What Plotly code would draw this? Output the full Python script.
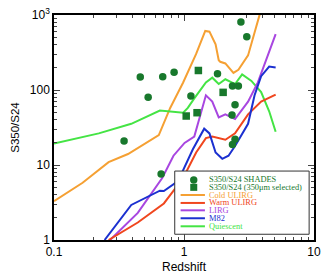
import plotly.graph_objects as go

# ---- data ----
shades_z = [0.346, 0.461, 0.53, 0.667, 0.686, 0.839, 1.13, 1.81, 2.34, 2.36, 2.62, 2.47, 2.36, 2.47, 2.74, 3.04]
shades_r = [20.9, 149, 80, 7.6, 150, 172, 83, 165, 46.5, 113, 113, 63.6, 18.7, 22, 806, 514]

sel_z = [1.29, 1.04, 1.26, 2.0]
sel_r = [182, 45, 49.8, 93]

cold_z = [0.1, 0.166, 0.263, 0.371, 0.64, 0.783, 0.985, 1.24, 1.457, 1.57, 1.75, 1.85, 1.90, 2.08, 2.40, 2.62, 3.11, 3.80, 4.2]
cold_r = [3.3, 5.8, 10.9, 14, 25, 57.6, 126, 303, 613, 600, 407, 250, 238, 226, 169, 186, 289, 980, 1500]

warm_z = [0.263, 0.441, 0.7, 0.985, 1.24, 1.474, 1.65, 2.08, 2.47, 3.11, 3.92, 5.07]
warm_r = [1.0, 1.71, 3.07, 6.7, 14.7, 22.8, 23.9, 21.7, 26.4, 47.4, 70, 87]

lirg_z = [0.27, 0.441, 0.68, 0.83, 1.01, 1.2, 1.474, 1.65, 1.85, 2.08, 2.47, 3.11, 3.70, 5.07]
lirg_r = [1.0, 2.3, 6.7, 13.3, 19.7, 23.9, 85, 70, 43, 47.4, 41, 70, 126, 556]

m82_z = [0.245, 0.393, 0.652, 0.7, 0.9, 1.17, 1.43, 1.57, 1.75, 1.97, 2.2, 2.47, 3.11, 3.49, 3.92, 4.52, 5.07]
m82_r = [1.0, 2.93, 4.55, 4.5, 6.1, 16.2, 30.5, 26.4, 14.7, 12.1, 13.3, 17.9, 35.4, 85, 153, 205, 200]

qui_z = [0.1, 0.221, 0.393, 0.652, 0.985, 1.07, 1.2, 1.474, 1.65, 1.85, 2.08, 2.47, 2.80, 3.30, 3.92, 4.52, 5.07]
qui_r = [19.3, 26.4, 35.4, 53.3, 49.8, 57.7, 77.3, 126, 146, 120, 139, 120, 161, 132, 94, 52, 27.7]

x_ticks = [0.1, 1, 10]
x_ticktext = ["0.1", "1", "10"]
y_ticks = [1, 10, 100, 1000]
y_ticktext = ["1", "10", "100", "10<sup>3</sup>"]

legend_labels = ["S350/S24 SHADES", "S350/S24 (350\u03bcm selected)", "Cold ULIRG",
                 "Warm ULIRG", "LIRG", "M82", "Quiescent"]

# ---- styles ----
DG = "#18782c"
C_COLD = "#f5a033"
C_WARM = "#f0461e"
C_LIRG = "#a846e0"
C_M82 = "#1b30d0"
C_QUI = "#44e444"

fig = go.Figure()
for z, r, c in [(cold_z, cold_r, C_COLD), (qui_z, qui_r, C_QUI), (lirg_z, lirg_r, C_LIRG),
                (warm_z, warm_r, C_WARM), (m82_z, m82_r, C_M82)]:
    fig.add_trace(go.Scatter(x=z, y=r, mode="lines", line=dict(color=c, width=2), showlegend=False))

fig.add_trace(go.Scatter(x=shades_z, y=shades_r, mode="markers",
                         marker=dict(symbol="circle", size=7.5, color=DG), showlegend=False))
fig.add_trace(go.Scatter(x=sel_z, y=sel_r, mode="markers",
                         marker=dict(symbol="square", size=7.5, color=DG), showlegend=False))

minor_x = [a * b for b in [0.1, 1] for a in range(2, 10)]
minor_y = [a * b for b in [1, 10, 100] for a in range(2, 10)]

fig.update_xaxes(type="log", range=[-1, 1], tickmode="array", tickvals=x_ticks, ticktext=x_ticktext,
                 ticks="inside", ticklen=6, tickwidth=1, mirror="allticks", showline=True,
                 linecolor="black", linewidth=1.5, showgrid=False, zeroline=False,
                 minor=dict(tickmode="array", tickvals=minor_x, ticks="inside", ticklen=3, showgrid=False),
                 tickfont=dict(family="Liberation Sans", size=12, color="black"),
                 title=dict(text="Redshift", font=dict(family="Liberation Sans", size=12, color="black"),
                            standoff=4))
fig.update_yaxes(type="log", range=[0, 3], tickmode="array", tickvals=y_ticks, ticktext=y_ticktext,
                 ticks="inside", ticklen=6, tickwidth=1, mirror="allticks", showline=True,
                 linecolor="black", linewidth=1.5, showgrid=False, zeroline=False,
                 minor=dict(tickmode="array", tickvals=minor_y, ticks="inside", ticklen=3, showgrid=False),
                 tickfont=dict(family="Liberation Sans", size=12, color="black"),
                 title=dict(text="S350/S24", font=dict(family="Liberation Sans", size=11.5, color="black"),
                            standoff=8))

# ---- manual legend ----
shapes = [dict(type="rect", xref="paper", yref="paper", x0=0.4644, x1=0.9813, y0=0.0255, y1=0.3064,
               fillcolor="white", line=dict(color="#333333", width=1), layer="above")]
rows = [0.2668, 0.234, 0.2, 0.1647, 0.1319, 0.0966, 0.0609]
text_colors = [DG, DG, C_COLD, C_WARM, C_LIRG, C_M82, C_QUI]
annotations = []
for i, (lab, yy, col) in enumerate(zip(legend_labels, rows, text_colors)):
    annotations.append(dict(xref="paper", yref="paper", x=0.5918, y=yy, text=lab, showarrow=False,
                            xanchor="left", yanchor="middle", borderpad=0,
                            font=dict(family="Liberation Serif", size=8.4, color=col)))
    if i == 0:
        shapes.append(dict(type="circle", xref="paper", yref="paper", xsizemode="pixel", ysizemode="pixel",
                           xanchor=0.5375, yanchor=yy, x0=-3.7, x1=3.7, y0=-3.7, y1=3.7,
                           fillcolor=DG, line=dict(width=0), layer="above"))
    elif i == 1:
        shapes.append(dict(type="rect", xref="paper", yref="paper", xsizemode="pixel", ysizemode="pixel",
                           xanchor=0.5375, yanchor=yy, x0=-3.5, x1=3.5, y0=-3.5, y1=3.5,
                           fillcolor=DG, line=dict(width=0), layer="above"))
    else:
        shapes.append(dict(type="line", xref="paper", yref="paper", x0=0.4869, x1=0.5805, y0=yy, y1=yy,
                           line=dict(color=col, width=2), layer="above"))

fig.update_layout(width=327, height=278, margin=dict(l=54, r=6, t=10, b=33),
                  paper_bgcolor="white", plot_bgcolor="white",
                  shapes=shapes, annotations=annotations, showlegend=False)

fig.write_html("out.html")
